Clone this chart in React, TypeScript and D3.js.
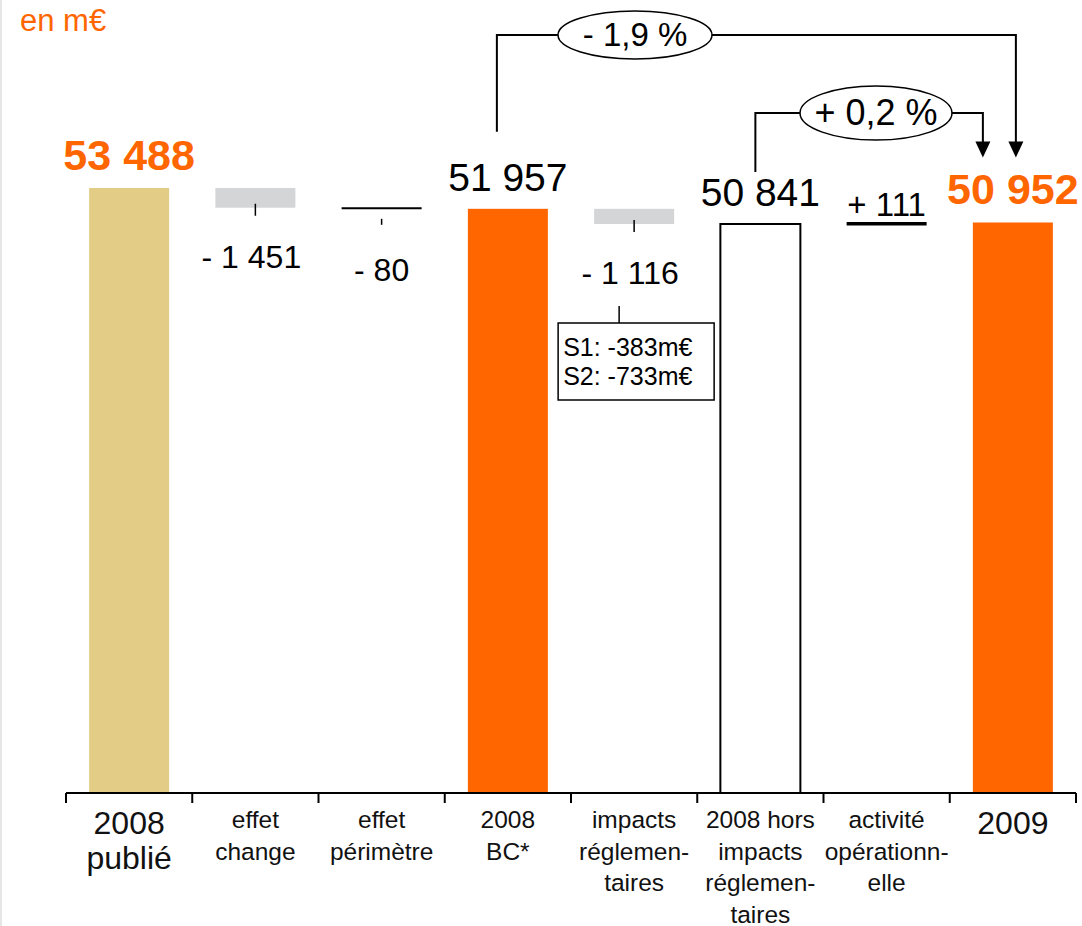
import React from "react";
import * as d3 from "d3";

const categories = [
  "2008 publié",
  "effet change",
  "effet périmètre",
  "2008 BC*",
  "impacts réglementaires",
  "2008 hors impacts réglementaires",
  "activité opérationnelle",
  "2009",
];
const axisLines = [
  ["2008", "publié"],
  ["effet", "change"],
  ["effet", "périmètre"],
  ["2008", "BC*"],
  ["impacts", "réglemen-", "taires"],
  ["2008 hors", "impacts", "réglemen-", "taires"],
  ["activité", "opérationn-", "elle"],
  ["2009"],
];
const values = [53488, -1451, -80, 51957, -1116, 50841, 111, 50952];
const kinds = ["total", "delta", "delta", "total", "delta", "total", "delta", "total"];
const valueLabels = ["53 488", "- 1 451", "- 80", "51 957", "- 1 116", "50 841", "+ 111", "50 952"];
const totalColors = ["#E3CC85", "", "", "#FF6600", "", "#FFFFFF", "", "#FF6600"];
const splitLines = ["S1: -383m€", "S2: -733m€"];
const growthLabels = ["- 1,9 %", "+ 0,2 %"];

const W = 1082;
const H = 926;
const FONT = "'Liberation Sans', Arial, Helvetica, sans-serif";
const ORANGE = "#FF6600";

export default function App() {
  const x = d3.scaleBand<string>().domain(categories).range([66, 1076]).padding(0);
  const y = d3.scaleLinear().domain([9000, 53488]).range([793, 188]);
  const barW = 80;

  // waterfall running values
  let running = 0;
  const steps = values.map((v, i) => {
    if (kinds[i] === "total") {
      running = v;
      return { lo: 0, hi: v };
    }
    const from = running;
    running = running + v;
    return { lo: Math.min(from, running), hi: Math.max(from, running) };
  });

  const cx = (i: number) => (x(categories[i]) as number) + x.bandwidth() / 2;
  const yBase = y.range()[0];

  const marks = steps.map((s, i) => {
    const c = cx(i);
    if (kinds[i] === "total") {
      const top = y(s.hi);
      const isOutline = totalColors[i] === "#FFFFFF";
      const big = totalColors[i] !== "#FFFFFF" && i !== 3;
      return (
        <g key={i}>
          <rect
            x={c - barW / 2}
            y={top}
            width={barW}
            height={yBase - top}
            fill={totalColors[i]}
            stroke={isOutline ? "#000" : "none"}
            strokeWidth={isOutline ? 2 : 0}
          />
          <text
            x={c}
            y={top - 18}
            textAnchor="middle"
            fontSize={big ? 43 : 39}
            fontWeight={big ? "bold" : "normal"}
            fill={big ? ORANGE : "#000"}
          >
            {valueLabels[i]}
          </text>
        </g>
      );
    }
    const yt = y(s.hi);
    const yb = y(s.lo);
    const thin = yb - yt < 3;
    const neg = values[i] < 0;
    return (
      <g key={i}>
        {thin ? (
          <line
            x1={c - barW / 2}
            x2={c + barW / 2}
            y1={(yt + yb) / 2 + (neg ? 0 : 0.5)}
            y2={(yt + yb) / 2 + (neg ? 0 : 0.5)}
            stroke="#000"
            strokeWidth={neg ? 2 : 3.5}
          />
        ) : (
          <rect x={c - barW / 2} y={yt} width={barW} height={yb - yt} fill="#D4D5D7" />
        )}
        {neg && (
          <line
            x1={c}
            x2={c}
            y1={thin ? yb + 10 : yb - 4}
            y2={thin ? yb + 16 : yb + 8}
            stroke="#000"
            strokeWidth={1.5}
          />
        )}
        <text
          x={neg && !thin ? c - 4 : c}
          y={neg ? yb + (thin ? 72 : 60) : yt - 6}
          textAnchor="middle"
          fontSize={neg ? 32 : 33}
          fill="#000"
        >
          {valueLabels[i]}
        </text>
      </g>
    );
  });

  // impacts breakdown box
  const iImp = 4;
  const boxX = cx(iImp) - 76;
  const boxY = y(steps[iImp].lo) + 99;

  // growth brackets
  const iBC = 3;
  const iHors = 5;
  const i09 = 7;
  const arrowTip = y(steps[i09].hi) - 65;
  const br1 = { x1: cx(iBC) - 11, y0: y(steps[iBC].hi) - 77, top: 35, x2: cx(i09) + 3, ex: 635, rx: 77, ry: 24, fs: 33 };
  const br2 = { x1: cx(iHors) - 5, y0: y(steps[iHors].hi) - 52, top: 113, x2: cx(i09) - 30, ex: 876, rx: 76, ry: 27, fs: 36 };

  const bracket = (b: typeof br1, label: string, k: number) => (
    <g key={k}>
      <path
        d={`M${b.x1},${b.y0}V${b.top}H${b.x2}V${arrowTip - 14}`}
        fill="none"
        stroke="#000"
        strokeWidth={2}
      />
      <path
        d={`M${b.x2 - 7.5},${arrowTip - 16}L${b.x2 + 7.5},${arrowTip - 16}L${b.x2},${arrowTip}Z`}
        fill="#000"
      />
      <ellipse cx={b.ex} cy={b.top} rx={b.rx} ry={b.ry} fill="#fff" stroke="#000" strokeWidth={1.5} />
      <text x={b.ex} y={b.top + b.fs / 3} textAnchor="middle" fontSize={b.fs} fill="#000">
        {label}
      </text>
    </g>
  );

  return (
    <svg
      width={W}
      height={H}
      style={{ position: "absolute", left: 0, top: 0, background: "#fff" }}
      fontFamily={FONT}
    >
      <line x1={1} x2={1} y1={0} y2={H} stroke="#e6e6e6" strokeWidth={2} />
      <text x={20} y={31} fontSize={31} fill={ORANGE}>
        en m€
      </text>

      {marks}

      <line x1={cx(iImp) - 15} x2={cx(iImp) - 15} y1={boxY - 17} y2={boxY} stroke="#000" strokeWidth={1.5} />
      <rect x={boxX} y={boxY} width={156} height={77} fill="#fff" stroke="#000" strokeWidth={1.5} />
      {splitLines.map((t, k) => (
        <text key={k} x={boxX + 5} y={boxY + 33 + k * 29} fontSize={25} fill="#000">
          {t}
        </text>
      ))}

      {bracket(br1, growthLabels[0], 0)}
      {bracket(br2, growthLabels[1], 1)}

      {/* axis */}
      <line x1={66} x2={1076} y1={yBase} y2={yBase} stroke="#000" strokeWidth={2} />
      {[...categories.map((c) => x(c) as number), 1076].map((t, k) => (
        <line key={k} x1={t} x2={t} y1={yBase} y2={yBase + 10} stroke="#000" strokeWidth={2} />
      ))}
      {axisLines.map((lines, i) => {
        const big = i === 0 || i === 7;
        return (
          <text key={i} textAnchor="middle" fontSize={big ? 32 : 24.5} fill="#111">
            {lines.map((l, k) => (
              <tspan key={k} x={cx(i)} y={(big ? 834 : 828) + k * (big ? 35 : 31.5)}>
                {l}
              </tspan>
            ))}
          </text>
        );
      })}
    </svg>
  );
}
